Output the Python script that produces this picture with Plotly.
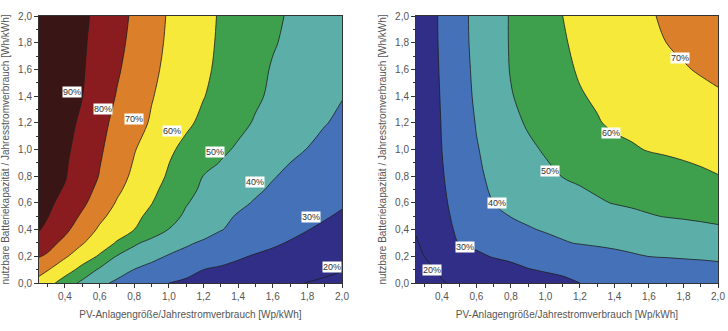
import plotly.graph_objects as go
from plotly.subplots import make_subplots

# grid
x_pv = [0.25, 0.3, 0.4, 0.5, 0.6, 0.7, 0.8, 0.9, 1.0, 1.1, 1.2, 1.3, 1.4, 1.5, 1.6, 1.7, 1.8, 1.9, 2.0]
y_batt_left = [0.0, 0.1, 0.2, 0.3, 0.4, 0.5, 0.6, 0.7, 0.8, 0.9, 1.0, 1.2, 1.4, 1.6, 1.8, 2.0]
y_batt_right = [0.0, 0.1, 0.2, 0.3, 0.4, 0.5, 0.6, 0.8, 1.0, 1.2, 1.4, 1.6, 1.8, 2.0]

# left chart values [%]
z_left = [
    [67, 63.5, 55.5, 47.8, 42.2, 38.3, 35.6, 32.8, 30, 28.7, 27.4, 26.2, 24.9, 23.6, 22.3, 21.0, 19.8, 18.9, 18],
    [73, 70.5, 64.4, 57, 48.6, 44.1, 39.8, 37.3, 34.9, 32.4, 30, 28.8, 27.6, 26.4, 25.2, 23.9, 22.7, 21.5, 20.3],
    [80.5, 78.8, 71.1, 65.1, 58.9, 49.5, 45.9, 42.3, 39.3, 37.2, 35.2, 33.1, 31.0, 29.3, 28.0, 26.6, 25.2, 23.9, 22.5],
    [85.5, 83.1, 77.6, 70.7, 65, 59.2, 51.3, 47.4, 44.3, 41.2, 38.8, 36.9, 35, 33.1, 31.2, 29.4, 27.8, 26.2, 24.6],
    [90.5, 87.7, 82, 75.1, 68.7, 64.3, 60, 54.8, 49.8, 46.6, 43.5, 40.3, 38.2, 36.2, 34.2, 32.2, 30.2, 28.5, 26.8],
    [92, 90.3, 84.7, 78.7, 72, 66.8, 62.3, 57.6, 52.9, 48.7, 45.3, 42, 39.3, 37.6, 35.9, 34.1, 32.4, 30.7, 28.9],
    [93, 91.6, 87.5, 81.7, 75.5, 69.3, 64.8, 60.3, 55.4, 50.5, 47.4, 44.6, 41.7, 39.3, 37.7, 36, 34.3, 32.7, 31],
    [93.8, 92.4, 89.4, 83.7, 77.8, 71.6, 66.6, 62, 57.2, 52.3, 48.7, 46.2, 43.7, 41.2, 39, 37.2, 35.4, 33.6, 31.8],
    [94.5, 93.2, 90.5, 85.4, 79.6, 73.6, 68.2, 63.6, 59, 54.3, 49.8, 47.4, 45.1, 42.8, 40.5, 38.5, 36.7, 34.8, 33],
    [95, 93.6, 90.9, 86.1, 80.4, 74.8, 69.4, 64.8, 60.1, 56.5, 52.9, 49.6, 47.2, 44.8, 42.4, 40, 38.1, 36.2, 34.3],
    [95.5, 94.1, 91.4, 87.1, 81.2, 75.8, 70.5, 65.9, 61.4, 57.8, 54.7, 51.6, 48.9, 46.6, 44.3, 42, 39.8, 37.6, 35.5],
    [96, 94.7, 92.1, 88.8, 82.7, 77.6, 73.3, 69.1, 65.3, 61.5, 58.2, 55.2, 52.1, 49.3, 47.1, 44.9, 42.7, 40.4, 38.5],
    [96.3, 95.1, 92.6, 90.1, 84.9, 79.5, 75, 70.5, 67, 63.7, 60.3, 57.3, 54.2, 51.2, 48.7, 46.6, 44.5, 42.4, 40.3],
    [96.6, 95.4, 93.1, 90.7, 86.3, 81.1, 76.4, 71.8, 68, 64.8, 61.5, 58.3, 55.2, 52.2, 49.4, 47.6, 45.7, 43.9, 42],
    [96.8, 95.6, 93.3, 91, 87.3, 82.4, 77.6, 72.9, 68.7, 65.3, 62, 58.9, 56.1, 53.3, 50.6, 48.6, 46.9, 45.2, 43.5],
    [97, 95.9, 93.6, 91.4, 88.1, 83.3, 78.5, 73.7, 69.2, 65.8, 62.4, 59.2, 56.6, 54, 51.3, 49.3, 47.9, 46.4, 45],
]

# right chart values [%]
z_right = [
    [14, 15.9, 19.6, 21.1, 22.4, 23.7, 24.9, 26.2, 27.5, 28.7, 30, 30.5, 31, 31.5, 32, 32.5, 33, 33.5, 34],
    [16, 18.2, 21, 22.8, 24.5, 26.2, 27.9, 29.7, 30.6, 31.2, 31.9, 32.6, 33.3, 34, 34.7, 35.4, 36.1, 36.8, 37.5],
    [17.8, 20.1, 22.9, 25.8, 28.6, 30.5, 31.6, 32.7, 33.8, 34.9, 35.9, 37.1, 38.1, 39.2, 40.1, 40.5, 40.9, 41.2, 41.6],
    [19.3, 21.6, 26, 30.2, 31.7, 33.3, 34.8, 36.4, 38, 39.5, 40.4, 41, 41.6, 42.2, 42.8, 43.4, 44, 44.6, 45.2],
    [20.6, 23, 27.8, 31.1, 33.2, 35.3, 37.3, 39.4, 40.6, 41.4, 42.2, 43.1, 43.9, 44.7, 45.6, 46.4, 47.2, 48.1, 48.9],
    [21.5, 23.8, 28.3, 31.8, 34.8, 37.7, 40.2, 41.4, 42.6, 43.7, 44.9, 46, 47.2, 48.4, 49.5, 50.3, 50.8, 51.3, 51.8],
    [22, 24.2, 28.7, 32.6, 36.3, 40, 41.5, 43.1, 44.6, 46.2, 47.7, 49.2, 50.3, 51, 51.7, 52.4, 53.1, 53.8, 54.5],
    [22.5, 24.8, 29.4, 34, 38.6, 41.6, 43.8, 46, 48.2, 50.2, 51.3, 52.3, 53.4, 54.5, 55.5, 56.6, 57.7, 58.7, 59.8],
    [22.8, 25.2, 30, 34.8, 39.5, 42.6, 45.6, 48.5, 50.8, 52.5, 54.2, 55.9, 58.0, 59.2, 60.4, 61, 61.6, 62.3, 62.9],
    [23, 25.4, 30.3, 35.4, 40.4, 44.1, 47.8, 50.9, 53.2, 55.5, 57.7, 59.5, 61.2, 62.0, 62.7, 63.4, 64.3, 65.1, 66],
    [23.2, 25.6, 30.6, 36.1, 41.3, 45.4, 49.6, 52.2, 54.6, 57.1, 59.5, 60.9, 62.1, 63.3, 64.4, 65.6, 66.8, 67.9, 69.1],
    [23.3, 25.8, 30.9, 36.6, 41.8, 46.2, 50.4, 53.1, 55.8, 58.5, 60.7, 62.1, 63.6, 65, 66.5, 68, 69.4, 70.7, 71.8],
    [23.4, 25.9, 31.2, 37.1, 42.2, 46.5, 50.6, 53.5, 56.5, 59.4, 61.4, 63.1, 64.8, 66.6, 68.3, 70, 71.4, 72.8, 74.2],
    [23.5, 26, 31.3, 37.3, 42.3, 46.6, 50.6, 53.8, 56.9, 60, 61.9, 63.7, 65.6, 67.4, 69.3, 71, 72.7, 74.3, 76],
]

# contour labels (text, x, y)
labels_left = ["90%", "80%", "70%", "60%", "50%", "40%", "30%", "20%"]
labels_left_x = [0.44, 0.62, 0.80, 1.02, 1.265, 1.50, 1.82, 1.94]
labels_left_y = [1.43, 1.30, 1.23, 1.14, 0.98, 0.754, 0.497, 0.12]
labels_right = ["20%", "30%", "40%", "50%", "60%", "70%"]
labels_right_x = [0.341, 0.532, 0.718, 1.025, 1.38, 1.78]
labels_right_y = [0.097, 0.267, 0.597, 0.841, 1.124, 1.685]

x_title = "PV-Anlagengröße/Jahrestromverbrauch [Wp/kWh]"
y_title = "nutzbare Batteriekapazität / Jahresstromverbrauch [Wh/kWh]"

band_colors = ["#302e86", "#302e86", "#4471b8", "#5cafa9", "#3ea04c",
               "#f6e93a", "#db7f2b", "#8a1b1f", "#3a1515"]
colorscale = [[i / 8, c] for i, c in enumerate(band_colors)]

fig = make_subplots(rows=1, cols=2)

for col, yv, z in ((1, y_batt_left, z_left), (2, y_batt_right, z_right)):
    fig.add_trace(go.Contour(
        x=x_pv, y=yv, z=z,
        colorscale=colorscale, showscale=False,
        contours=dict(start=20, end=90, size=10, coloring="fill", showlabels=False),
        line=dict(color="#1e1e1e", width=0.8, smoothing=1.0),
        hoverinfo="skip",
    ), row=1, col=col)

font_ticks = dict(family="Liberation Sans, Arial, sans-serif", size=10, color="#555555")
axis_common = dict(
    range=[0.25, 2.0], showline=True, mirror=True, linecolor="#333333", linewidth=1,
    ticks="outside", ticklen=4, tickcolor="#333333", tickfont=font_ticks,
    showgrid=False, zeroline=False, tickformat=".1f",
    minor=dict(dtick=0.1, ticks="outside", ticklen=2.5, tickcolor="#333333"),
    title=dict(text=x_title, font=font_ticks, standoff=9),
    automargin=False,
)
yaxis_common = dict(
    range=[0, 2.0], showline=True, mirror=True, linecolor="#333333", linewidth=1,
    ticks="outside", ticklen=4, tickcolor="#333333", tickfont=font_ticks,
    showgrid=False, zeroline=False, tickformat=".1f", dtick=0.2, tick0=0,
    minor=dict(dtick=0.1, ticks="outside", ticklen=2.5, tickcolor="#333333"),
    title=dict(text=y_title, font=font_ticks, standoff=6),
    automargin=False,
)

fig.update_xaxes(**axis_common, tick0=0.2, dtick=0.2)
fig.update_yaxes(**yaxis_common)

fig.update_layout(
    width=728, height=331,
    margin=dict(l=0, r=0, t=0, b=0),
    paper_bgcolor="white", plot_bgcolor="white",
    separators=", ",
    showlegend=False,
    xaxis=dict(domain=[39 / 728, 342 / 728]),
    xaxis2=dict(domain=[416 / 728, 718 / 728]),
    yaxis=dict(domain=[1 - 283 / 331, 1 - 16 / 331]),
    yaxis2=dict(domain=[1 - 283 / 331, 1 - 16 / 331]),
)

annots = []
for t, x, y in zip(labels_left, labels_left_x, labels_left_y):
    annots.append(dict(x=x, y=y, xref="x", yref="y", text=t, showarrow=False,
                       bgcolor="white", borderpad=0,
                       font=dict(family="Liberation Sans, Arial, sans-serif", size=9, color="#333333")))
for t, x, y in zip(labels_right, labels_right_x, labels_right_y):
    annots.append(dict(x=x, y=y, xref="x2", yref="y2", text=t, showarrow=False,
                       bgcolor="white", borderpad=0,
                       font=dict(family="Liberation Sans, Arial, sans-serif", size=9, color="#333333")))
fig.update_layout(annotations=annots)

fig.write_html("out.html")
